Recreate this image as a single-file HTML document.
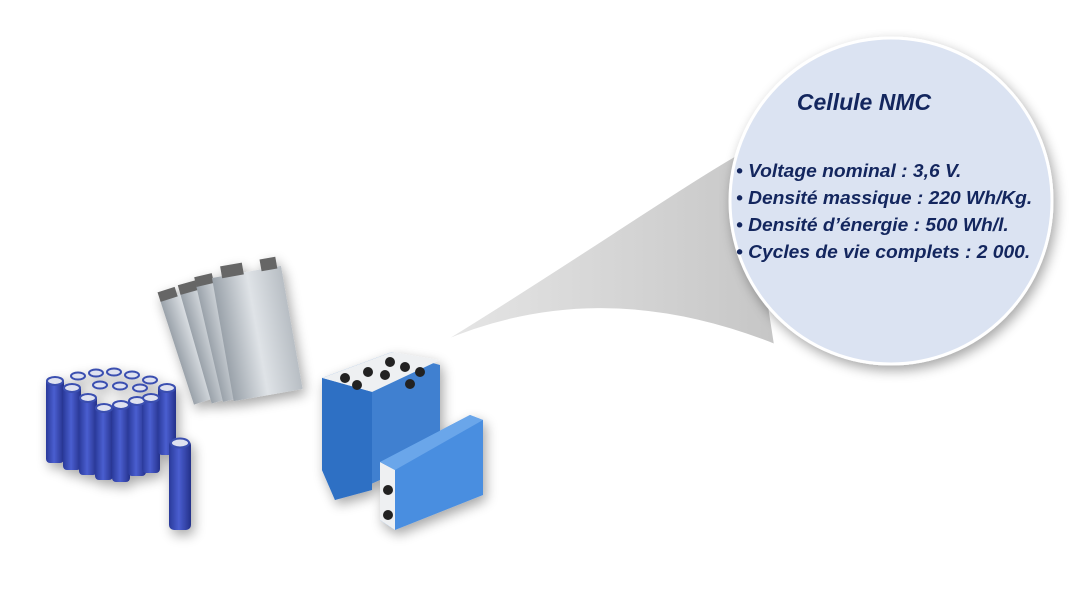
<!DOCTYPE html>
<html><head><meta charset="utf-8"><style>
body{margin:0;width:1078px;height:596px;background:#fff;overflow:hidden}
svg{position:absolute;left:0;top:0}
</style></head><body>
<svg width="1078" height="596" viewBox="0 0 1078 596">
<defs>
<linearGradient id="cyl" x1="0" x2="1"><stop offset="0" stop-color="#2a3a9a"/><stop offset=".45" stop-color="#4a5ed0"/><stop offset="1" stop-color="#24318a"/></linearGradient>
<linearGradient id="pouch" x1="0" x2="1"><stop offset="0" stop-color="#9aa2aa"/><stop offset=".5" stop-color="#dfe3e7"/><stop offset="1" stop-color="#b8bec4"/></linearGradient>
<linearGradient id="tail" x1="0" x2="1"><stop offset="0" stop-color="#e6e6e6"/><stop offset="1" stop-color="#c6c6c6"/></linearGradient>
<filter id="sh" x="-20%" y="-20%" width="140%" height="140%"><feGaussianBlur in="SourceAlpha" stdDeviation="6"/><feOffset dx="3" dy="5"/><feComponentTransfer><feFuncA type="linear" slope=".35"/></feComponentTransfer><feMerge><feMergeNode/><feMergeNode in="SourceGraphic"/></feMerge></filter>
</defs>
<path d="M745,150 C690,180 560,270 440,343 C540,300 650,295 775,345 Z" fill="url(#tail)" stroke="#fff" stroke-width="2"/>
<ellipse cx="891" cy="201" rx="161" ry="163" fill="#dbe3f2" stroke="#fff" stroke-width="3" filter="url(#sh)"/>
<text x="864" y="110" text-anchor="middle" font-family="Liberation Sans, sans-serif" font-style="italic" font-weight="bold" font-size="23" fill="#13265e">Cellule NMC</text>
<g font-family="Liberation Sans, sans-serif" font-style="italic" font-weight="bold" font-size="18.5" fill="#13265e" transform="translate(736,0) scale(1.04,1)">
<text x="0" y="177">• Voltage nominal : 3,6 V.</text>
<text x="0" y="204">• Densité massique : 220 Wh/Kg.</text>
<text x="0" y="231">• Densité d’énergie : 500 Wh/l.</text>
<text x="0" y="258">• Cycles de vie complets : 2 000.</text>
</g>
<g filter="url(#sh)">
<g transform="translate(160,300) rotate(-18)"><rect x="0" y="0" width="45" height="110" fill="url(#pouch)"/><rect x="0" y="-8" width="18" height="10" fill="#666"/></g>
<g transform="translate(180,293) rotate(-16)"><rect x="0" y="0" width="45" height="115" fill="url(#pouch)"/><rect x="0" y="-8" width="18" height="10" fill="#666"/></g>
<g transform="translate(196,285) rotate(-13)"><rect x="0" y="0" width="48" height="120" fill="url(#pouch)"/><rect x="0" y="-8" width="18" height="10" fill="#666"/></g>
<g transform="translate(212,278) rotate(-10)"><rect x="0" y="0" width="70" height="125" fill="url(#pouch)"/><rect x="10" y="-10" width="22" height="12" fill="#666"/><rect x="50" y="-10" width="16" height="12" fill="#666"/></g>
</g>
<g filter="url(#sh)">
<rect x="46" y="378" width="18" height="85" rx="4" fill="url(#cyl)"/>
<rect x="63" y="385" width="18" height="85" rx="4" fill="url(#cyl)"/>
<rect x="79" y="395" width="18" height="80" rx="4" fill="url(#cyl)"/>
<rect x="95" y="405" width="18" height="75" rx="4" fill="url(#cyl)"/>
<rect x="112" y="402" width="18" height="80" rx="4" fill="url(#cyl)"/>
<rect x="128" y="398" width="18" height="78" rx="4" fill="url(#cyl)"/>
<rect x="142" y="395" width="18" height="78" rx="4" fill="url(#cyl)"/>
<rect x="158" y="385" width="18" height="70" rx="4" fill="url(#cyl)"/>
<g fill="#dfe2f0" stroke="#3a4fb0" stroke-width="2">
<ellipse cx="55" cy="381" rx="8" ry="4"/><ellipse cx="72" cy="388" rx="8" ry="4"/><ellipse cx="88" cy="398" rx="8" ry="4"/><ellipse cx="104" cy="408" rx="8" ry="4"/><ellipse cx="121" cy="405" rx="8" ry="4"/><ellipse cx="137" cy="401" rx="8" ry="4"/><ellipse cx="151" cy="398" rx="8" ry="4"/><ellipse cx="167" cy="388" rx="8" ry="4"/>
<ellipse cx="78" cy="376" rx="7" ry="3.5"/><ellipse cx="96" cy="373" rx="7" ry="3.5"/><ellipse cx="114" cy="372" rx="7" ry="3.5"/><ellipse cx="132" cy="375" rx="7" ry="3.5"/><ellipse cx="150" cy="380" rx="7" ry="3.5"/><ellipse cx="100" cy="385" rx="7" ry="3.5"/><ellipse cx="120" cy="386" rx="7" ry="3.5"/><ellipse cx="140" cy="388" rx="7" ry="3.5"/>
</g>
<rect x="169" y="440" width="22" height="90" rx="5" fill="url(#cyl)"/>
<ellipse cx="180" cy="443" rx="9" ry="4.5" fill="#dfe2f0" stroke="#3a4fb0" stroke-width="2"/>
</g>
<g filter="url(#sh)">
<polygon points="322,378 392,352 440,365 440,455 380,480 335,500 322,470" fill="#3f80d0"/>
<polygon points="322,378 392,352 440,360 372,392" fill="#eef0f2"/>
<polygon points="322,378 372,392 372,490 335,500 322,470" fill="#2f6fc4"/>
<g fill="#222"><circle cx="345" cy="378" r="5"/><circle cx="357" cy="385" r="5"/><circle cx="368" cy="372" r="5"/><circle cx="385" cy="375" r="5"/><circle cx="390" cy="362" r="5"/><circle cx="405" cy="367" r="5"/><circle cx="420" cy="372" r="5"/><circle cx="410" cy="384" r="5"/></g>
<polygon points="380,462 470,415 483,420 483,495 395,530 380,520" fill="#4a8ee0"/>
<polygon points="380,462 395,470 395,530 380,520" fill="#eef0f2"/>
<polygon points="380,462 470,415 483,420 395,470" fill="#6aa6ea"/>
<g fill="#222"><circle cx="388" cy="490" r="5"/><circle cx="388" cy="515" r="5"/></g>
</g>
</svg>
</body></html>
